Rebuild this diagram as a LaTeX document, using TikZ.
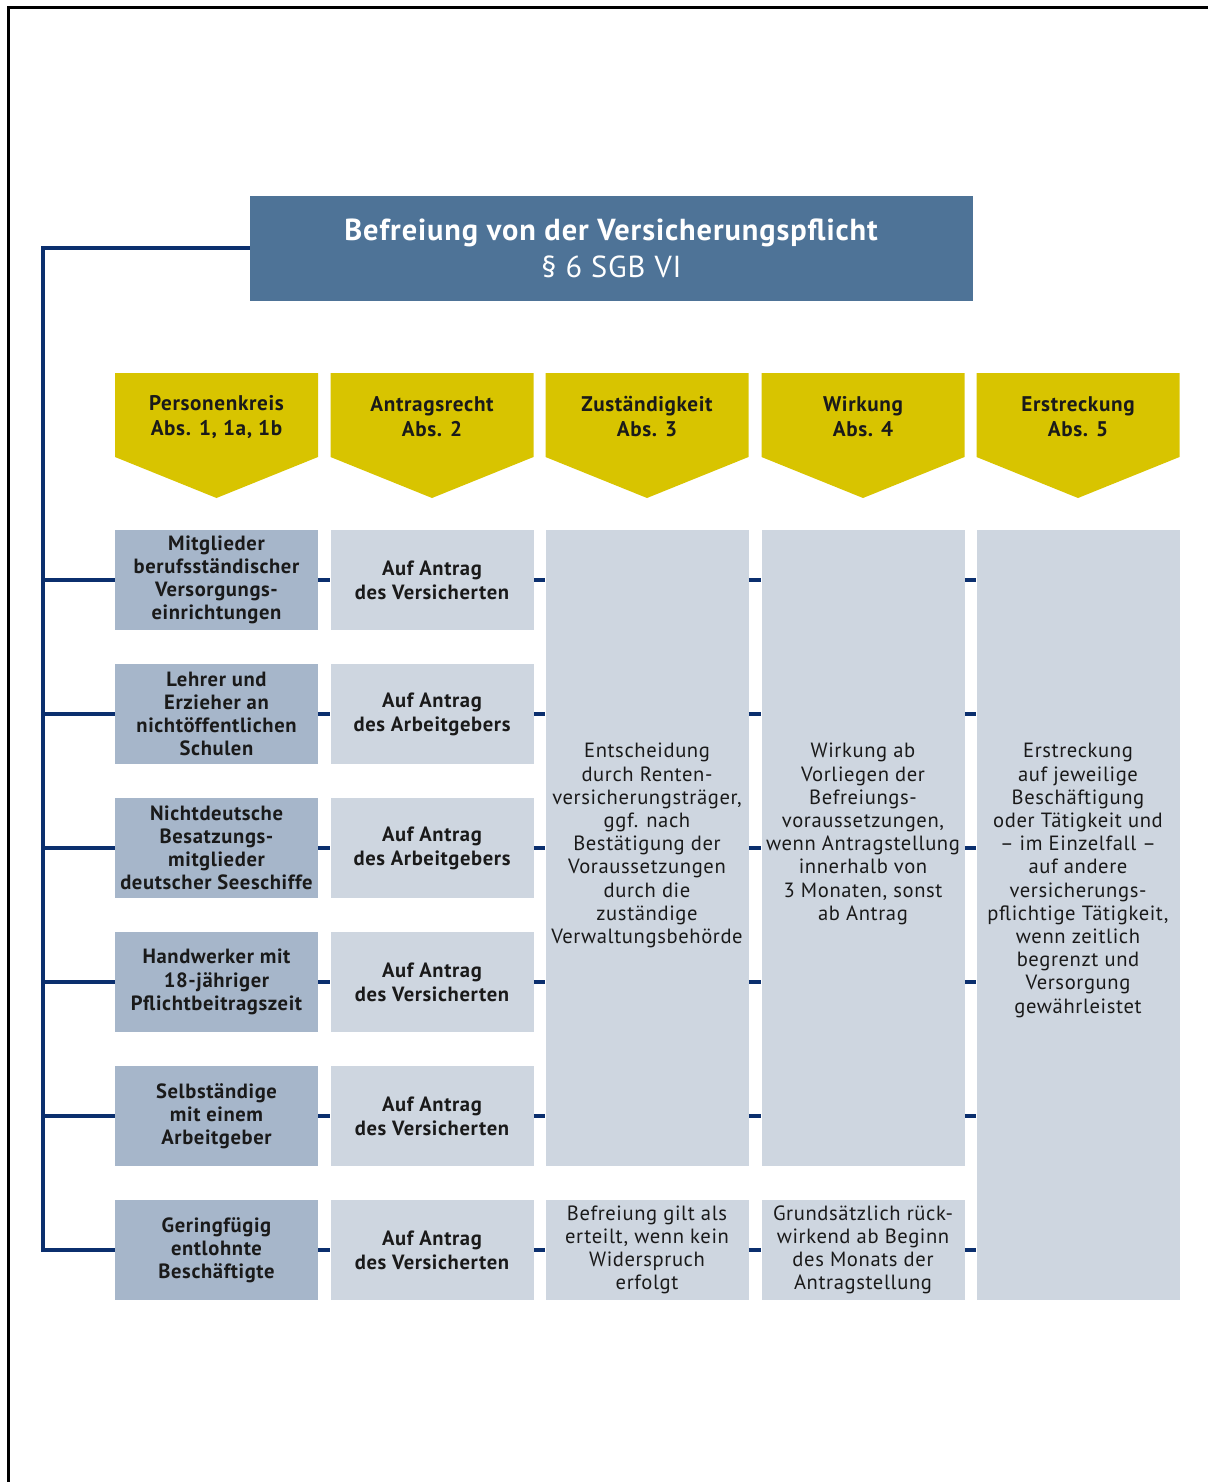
\documentclass[tikz,border=0pt]{standalone}
\usepackage{fontspec}
\setmainfont{PT Sans}[LetterSpace=3]
\definecolor{titleblue}{HTML}{4E7397}
\definecolor{hdryellow}{HTML}{D8C400}
\definecolor{boxdark}{HTML}{A6B6CA}
\definecolor{boxlight}{HTML}{CED6E0}
\definecolor{navy}{HTML}{0B2F6E}
\definecolor{txt}{HTML}{1A1A1A}
\begin{document}
\begin{tikzpicture}[x=0.5pt,y=-0.5pt,
  cell/.style={inner sep=0pt, minimum width=101.5pt, minimum height=50pt, align=center, text=txt,
    font=\fontsize{10.3}{11.6}\selectfont},
  pbox/.style={cell, fill=boxdark, font=\fontsize{10.3}{11.6}\selectfont\bfseries},
  abox/.style={cell, fill=boxlight, font=\fontsize{10.3}{11.9}\selectfont\bfseries},
  lbox/.style={cell, fill=boxlight},
  hdrtext/.style={align=center, text=txt, inner sep=0pt, font=\fontsize{10.6}{12.5}\selectfont\bfseries},
  link/.style={draw=navy, line width=2pt},
  frameline/.style={draw=black, line width=1.5pt}
]
\useasboundingbox (0,0) rectangle (1208,1482);
% frame
\coordinate (fbl) at (8.5,1482);
\coordinate (ftl) at (8.5,7.5);
\coordinate (ftr) at (1208,7.5);
\draw[frameline] (fbl) -- (ftl) -- (ftr);

% title
\node[fill=titleblue, minimum width=361.5pt, minimum height=52pt, inner sep=0pt, text=white, align=center,
  font=\fontsize{15.2}{18.5}\selectfont] (title) at (611.5,248.5)
  {\textbf{Befreiung von der Versicherungspflicht}\\§ 6 SGB VI};

% headers
\foreach \cx/\nm/\la/\lb in {216.5/h1/Personenkreis/{Abs. 1, 1a, 1b},432/h2/Antragsrecht/Abs. 2,647/h3/Zuständigkeit/Abs. 3,863/h4/Wirkung/Abs. 4,1078/h5/Erstreckung/Abs. 5}{
  \fill[hdryellow] (\cx-101.5,373) -- (\cx+101.5,373) -- (\cx+101.5,457) -- (\cx,498) -- (\cx-101.5,457) -- cycle;
  \node[hdrtext] (\nm) at (\cx,417) {\la\\\lb};
}

% column 1
\node[pbox] (p1) at (216.5,580) {Mitglieder\\berufsständischer\\Versorgungs-\\einrichtungen};
\node[pbox] (p2) at (216.5,714) {Lehrer und\\Erzieher an\\nichtöffentlichen\\Schulen};
\node[pbox] (p3) at (216.5,848) {Nichtdeutsche\\Besatzungs-\\mitglieder\\deutscher Seeschiffe};
\node[pbox] (p4) at (216.5,982) {Handwerker mit\\18-jähriger\\Pflichtbeitragszeit};
\node[pbox] (p5) at (216.5,1116) {Selbständige\\mit einem\\Arbeitgeber};
\node[pbox] (p6) at (216.5,1250) {Geringfügig\\entlohnte\\Beschäftigte};

% column 2
\node[abox] (a1) at (432,580) {Auf Antrag\\des Versicherten};
\node[abox] (a2) at (432,714) {Auf Antrag\\des Arbeitgebers};
\node[abox] (a3) at (432,848) {Auf Antrag\\des Arbeitgebers};
\node[abox] (a4) at (432,982) {Auf Antrag\\des Versicherten};
\node[abox] (a5) at (432,1116) {Auf Antrag\\des Versicherten};
\node[abox] (a6) at (432,1250) {Auf Antrag\\des Versicherten};

% column 3
\node[lbox, minimum height=318pt] (z1) at (647,848) {};
\node[lbox, anchor=north, inner sep=0pt] (z1t) at (647,743) {Entscheidung\\durch Renten-\\versicherungsträger,\\ggf. nach\\Bestätigung der\\Voraussetzungen\\durch die\\zuständige\\Verwaltungsbehörde};
\node[lbox] (z2) at (647,1250) {Befreiung gilt als\\erteilt, wenn kein\\Widerspruch\\erfolgt};

% column 4
\node[lbox, minimum height=318pt] (w1) at (863,848) {};
\node[lbox, anchor=north, inner sep=0pt] (w1t) at (863,743) {Wirkung ab\\Vorliegen der\\Befreiungs-\\voraussetzungen,\\wenn Antragstellung\\innerhalb von\\3 Monaten, sonst\\ab Antrag};
\node[lbox] (w2) at (863,1250) {Grundsätzlich rück-\\wirkend ab Beginn\\des Monats der\\Antragstellung};

% column 5
\node[lbox, minimum height=385pt] (e1) at (1078,915) {};
\node[lbox, anchor=north, inner sep=0pt] (e1t) at (1078,743) {Erstreckung\\auf jeweilige\\Beschäftigung\\oder Tätigkeit und\\– im Einzelfall –\\auf andere\\versicherungs-\\pflichtige Tätigkeit,\\wenn zeitlich\\begrenzt und\\Versorgung\\gewährleistet};

% spine
\coordinate (stop) at (43,248.5);
\coordinate (sbot) at (43,1250);
\draw[link] (title.west) -- (stop) -- (sbot) -- (p6.west);
\foreach \r in {1,...,5}{
  \draw[link] (p\r.west -| stop) -- (p\r.west);
}
% stubs
\foreach \r in {1,...,6}{
  \draw[link] (p\r.east) -- (a\r.west);
  \draw[link] (a\r.east) -- (a\r.east -| z1.west);
  \draw[link] (a\r.east -| z1.east) -- (a\r.east -| w1.west);
  \draw[link] (a\r.east -| w1.east) -- (a\r.east -| e1.west);
}
\end{tikzpicture}
\end{document}
